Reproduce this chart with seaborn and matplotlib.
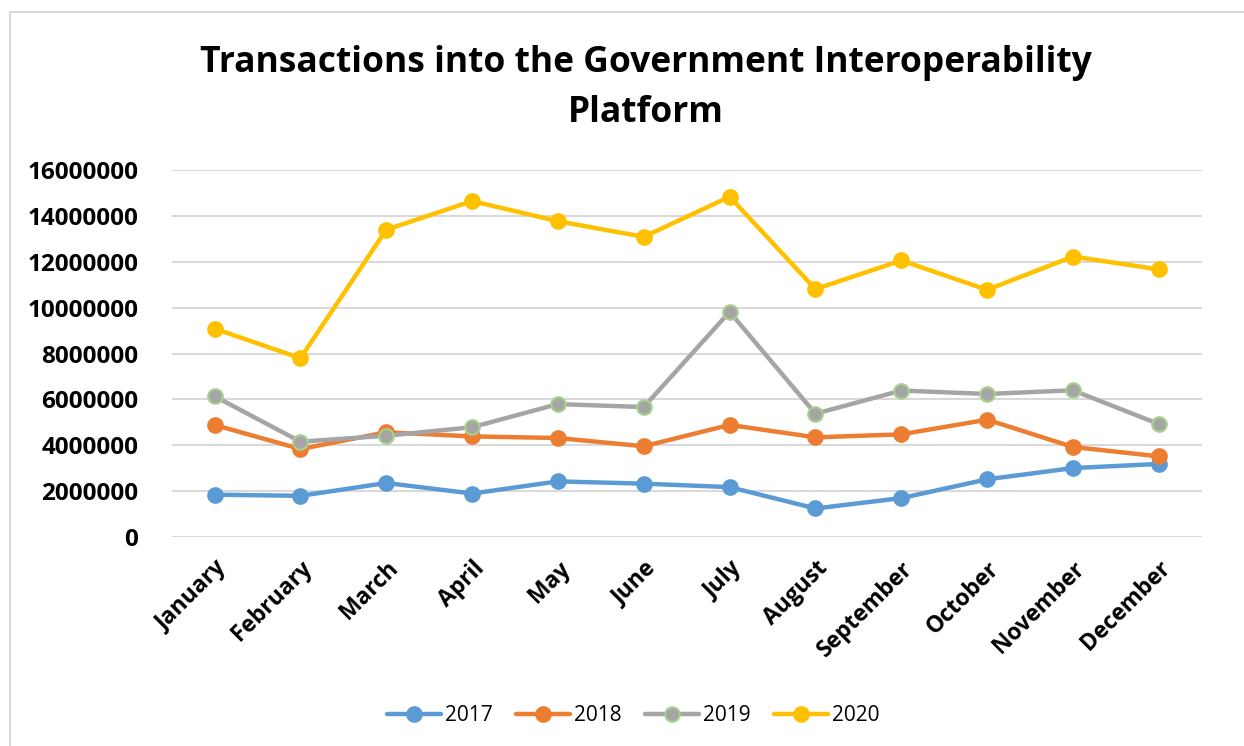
import pandas as pd
import matplotlib.pyplot as plt
import seaborn as sns
from matplotlib.lines import Line2D

sns.set_style("white")
plt.rcParams['font.family'] = ['Open Sans', 'DejaVu Sans']
plt.rcParams['text.color'] = 'black'
plt.rcParams['xtick.color'] = 'black'
plt.rcParams['ytick.color'] = 'black'

months = ["January", "February", "March", "April", "May", "June", "July",
          "August", "September", "October", "November", "December"]
years = ["2017", "2018", "2019", "2020"]

tx_2017 = [1850000, 1800000, 2360000, 1900000, 2430000, 2330000,
           2180000, 1250000, 1700000, 2520000, 3010000, 3190000]
tx_2018 = [4890000, 3840000, 4570000, 4390000, 4320000, 3960000,
           4890000, 4350000, 4480000, 5120000, 3930000, 3520000]
tx_2019 = [6140000, 4160000, 4420000, 4790000, 5800000, 5670000,
           9820000, 5380000, 6390000, 6240000, 6400000, 4930000]
tx_2020 = [9090000, 7800000, 13400000, 14650000, 13770000, 13090000,
           14840000, 10810000, 12060000, 10780000, 12230000, 11670000]

colors = {"2017": "#5B9BD5", "2018": "#ED7D31", "2019": "#A5A5A5", "2020": "#FFC000"}
edges = {"2017": "#5B9BD5", "2018": "#ED7D31", "2019": "#A9D18E", "2020": "#FFC000"}

df = pd.DataFrame({
    "month": months * 4,
    "value": tx_2017 + tx_2018 + tx_2019 + tx_2020,
    "year": [y for y in years for _ in months],
})

fig = plt.figure(figsize=(12.44, 7.46), dpi=100)
ax = fig.add_axes([0.138, 0.280, 0.828, 0.492])

for yr in years:
    sns.lineplot(data=df[df["year"] == yr], x="month", y="value", ax=ax,
                 color=colors[yr], linewidth=3.2, marker="o", markersize=10.5,
                 markerfacecolor=colors[yr], markeredgecolor=edges[yr],
                 markeredgewidth=1.5, sort=False)

ax.set_ylim(0, 16000000)
ax.set_xlim(-0.5, 11.5)
ax.set_yticks(range(0, 16000001, 2000000))
ax.set_yticklabels([str(v) for v in range(0, 16000001, 2000000)],
                   fontsize=17.5, fontweight="bold")
ax.set_xticks(range(len(months)))
ax.set_xticklabels(months, rotation=45, ha="right", rotation_mode="anchor",
                   fontsize=16.5, fontweight="bold")
ax.tick_params(axis="y", length=0, pad=24)
ax.tick_params(axis="x", length=0, pad=14)
ax.yaxis.grid(True, color="#D9D9D9", linewidth=1.5)
ax.set_axisbelow(True)
for s in ax.spines.values():
    s.set_visible(False)
ax.set_xlabel("")
ax.set_ylabel("")

fig.text(0.519, 0.882, "Transactions into the Government Interoperability\nPlatform",
         ha="center", va="center", fontsize=25.5, fontweight="bold", linespacing=1.55)

handles = [Line2D([0], [0], color=colors[y], linewidth=3.2, marker="o", markersize=10.5,
                  markerfacecolor=colors[y], markeredgecolor=edges[y],
                  markeredgewidth=1.5) for y in years]
fig.legend(handles, years, loc="center", bbox_to_anchor=(0.509, 0.041), ncol=4,
           frameon=False, fontsize=15, handlelength=2.6, columnspacing=1.1,
           handletextpad=0.2)

# chart border (top and left edges visible)
fig.add_artist(Line2D([10 / 1244, 1.0], [1 - 12 / 746, 1 - 12 / 746],
                      color="#D9D9D9", linewidth=1.5, transform=fig.transFigure))
fig.add_artist(Line2D([10 / 1244, 10 / 1244], [0.0, 1 - 12 / 746],
                      color="#D9D9D9", linewidth=1.5, transform=fig.transFigure))

plt.savefig("out.png", dpi=100)
